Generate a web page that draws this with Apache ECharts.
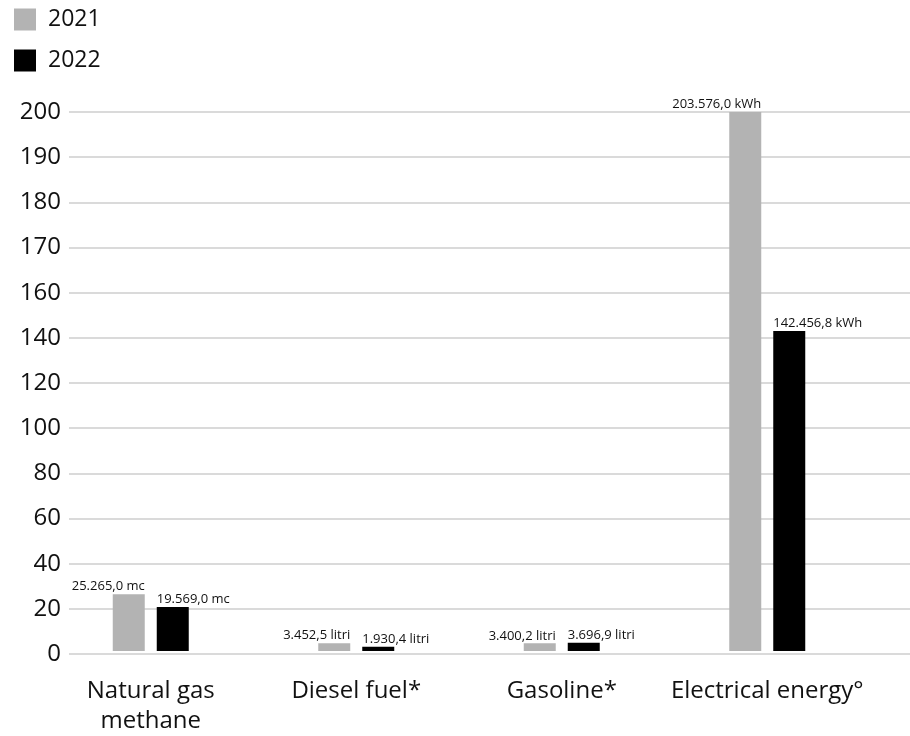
<!DOCTYPE html>
<html>
<head>
<meta charset="utf-8">
<script src="https://cdn.jsdelivr.net/npm/echarts@6/dist/echarts.min.js"></script>
<style>
  html, body { margin: 0; padding: 0; background: #fff; }
  #chart { width: 910px; height: 736px; }
</style>
</head>
<body>
<div id="chart"></div>
<script>
// Energy consumption by source, values in thousands of units
const categories = ['Natural gas\nmethane', 'Diesel fuel*', 'Gasoline*', 'Electrical energy°'];
const units = ['mc', 'litri', 'litri', 'kWh'];
const years = ['2021', '2022'];
const values2021 = [25.265, 3.4525, 3.4002, 203.576];
const values2022 = [19.569, 1.9304, 3.6969, 142.4568];
// Tick labels of the value axis (evenly spaced, finer steps above 160)
const yTicks = [0, 20, 40, 60, 80, 100, 120, 140, 160, 170, 180, 190, 200];

const STEP = 20;
const FONT = "'Open Sans', 'Noto Sans', sans-serif";

// Piecewise-linear map from a real value to its position on the evenly spaced tick axis
function toAxis(v) {
  let k = 0;
  while (k < yTicks.length - 2 && v > yTicks[k + 1]) k++;
  const t0 = yTicks[k], t1 = yTicks[k + 1];
  return STEP * (k + (v - t0) / (t1 - t0));
}

function fmt(v) {
  const parts = (v * 1000).toFixed(1).split('.');
  const intPart = parts[0].replace(/\B(?=(\d{3})+(?!\d))/g, '.');
  return intPart + ',' + parts[1];
}

const axisMax = STEP * (yTicks.length - 1);

function makeSeries(name, values, color, align, dx) {
  return {
    name: name,
    type: 'bar',
    xAxisIndex: 1,
    yAxisIndex: 1,
    barWidth: 32,
    barGap: '37.5%',
    itemStyle: { color: color },
    data: values.map(v => toAxis(v)),
    label: {
      show: true,
      position: 'top',
      distance: 1,
      align: align,
      offset: [dx, 0],
      fontFamily: FONT,
      fontSize: 13,
      color: '#111',
      formatter: p => fmt(values[p.dataIndex]) + ' ' + units[p.dataIndex]
    }
  };
}

const chart = echarts.init(document.getElementById('chart'), null, { renderer: 'canvas' });
chart.setOption({
  animation: false,
  backgroundColor: '#fff',
  legend: {
    data: years,
    orient: 'vertical',
    left: 14,
    top: 8,
    padding: 0,
    itemWidth: 22,
    itemHeight: 22,
    itemGap: 18,
    icon: 'rect',
    textStyle: { fontFamily: FONT, fontSize: 23, color: '#111', padding: [2, 0, 0, 7] }
  },
  grid: [
    { left: 69, right: 0, top: 112, bottom: 82 },
    { left: 48, right: 40, top: 112, bottom: 82 }
  ],
  xAxis: [
    { type: 'value', gridIndex: 0, show: false, min: 0, max: 1 },
    {
      type: 'category',
      gridIndex: 1,
      data: categories,
      axisLine: { show: false },
      axisTick: { show: false },
      axisLabel: {
        fontFamily: FONT,
        fontSize: 24,
        color: '#111',
        lineHeight: 30,
        margin: 25,
        interval: 0
      }
    }
  ],
  yAxis: [
    {
      type: 'value',
      gridIndex: 0,
      min: 0,
      max: axisMax,
      interval: STEP,
      axisLine: { show: false },
      axisTick: { show: false },
      splitLine: { lineStyle: { color: '#dadada', width: 2 } },
      axisLabel: {
        fontFamily: FONT,
        fontSize: 24,
        color: '#111',
        margin: 8,
        formatter: v => String(yTicks[Math.round(v / STEP)])
      }
    },
    {
      type: 'value',
      gridIndex: 1,
      min: 0,
      max: axisMax,
      interval: STEP,
      show: false,
      splitLine: { show: false }
    }
  ],
  series: [
    makeSeries(years[0], values2021, '#b3b3b3', 'right', 16),
    makeSeries(years[1], values2022, '#000000', 'left', -16)
  ]
});
</script>
</body>
</html>
